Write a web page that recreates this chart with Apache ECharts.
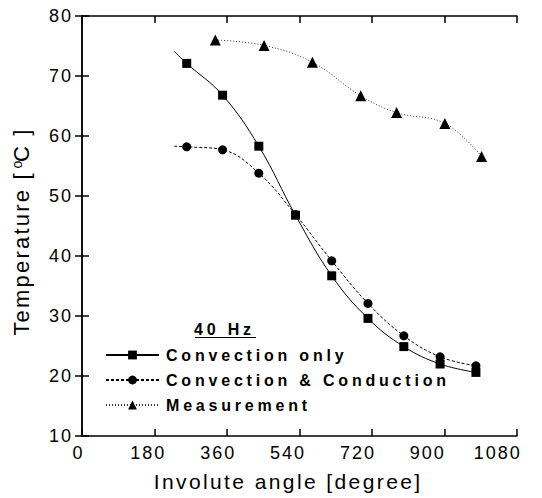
<!DOCTYPE html>
<html>
<head>
<meta charset="utf-8">
<script src="https://cdn.jsdelivr.net/npm/echarts@6/dist/echarts.min.js"></script>
<style>
  html, body { margin: 0; padding: 0; background: #fff; }
  #chart { width: 542px; height: 498px; }
  /* the old plot export spaces its letters out */
  #chart text[style*="18px"] { letter-spacing: 2px; }
  #chart text[style*="21px"] { letter-spacing: 2.4px; }
  #chart text[style*="22px"] { letter-spacing: 2.2px; }
  #chart text[style*="bold"] { letter-spacing: 3.8px; }
</style>
</head>
<body>
<div id="chart"></div>
<script>
  // model curves start at 229 deg without a marker
  var modelAngle = [229, 260, 349, 439, 530, 620, 710, 799, 889, 978];
  var convOnly = [74.1, 72.1, 66.8, 58.3, 46.8, 36.7, 29.6, 24.9, 22.0, 20.6];
  var convCond = [58.3, 58.2, 57.7, 53.8, 46.9, 39.2, 32.1, 26.7, 23.2, 21.7];
  var measAngle = [331, 452, 572, 692, 781, 901, 992];
  var measured = [76.0, 75.1, 72.3, 66.7, 63.9, 62.1, 56.6];
  var seriesNames = ['Convection only', 'Convection & Conduction', 'Measurement'];

  function pairs(xs, ys, hideFirst) {
    var out = [];
    for (var i = 0; i < xs.length; i++) {
      if (hideFirst && i === 0) {
        out.push({ value: [xs[i], ys[i]], symbol: 'none' });
      } else {
        out.push([xs[i], ys[i]]);
      }
    }
    return out;
  }

  var font = '"Liberation Sans", Arial, sans-serif';
  var chart = echarts.init(document.getElementById('chart'), null, { renderer: 'svg' });

  var frameAxis = {
    min: 0,
    max: 1080,
    interval: 180,
    axisLine: { show: true, lineStyle: { color: '#000', width: 1.5 } },
    axisTick: { show: true, inside: true, length: 7, lineStyle: { color: '#000', width: 1.5 } },
    axisLabel: { show: false },
    splitLine: { show: false }
  };
  var frameY = {
    min: 10,
    max: 80,
    interval: 10,
    axisLine: { show: true, lineStyle: { color: '#000', width: 1.5 } },
    axisTick: { show: true, inside: true, length: 7, lineStyle: { color: '#000', width: 1.5 } },
    splitLine: { show: false }
  };

  chart.setOption({
    animation: false,
    textStyle: { fontFamily: font, color: '#000' },
    title: {
      text: '40 Hz',
      left: 194,
      top: 321,
      padding: 0,
      textStyle: { fontFamily: font, fontSize: 16, fontWeight: 'bold', color: '#000' }
    },
    graphic: [{
      type: 'line',
      shape: { x1: 195, y1: 337.5, x2: 256, y2: 337.5 },
      style: { stroke: '#000', lineWidth: 1.2 }
    }],
    legend: {
      data: seriesNames,
      orient: 'vertical',
      left: 105,
      top: 347,
      padding: 0,
      itemWidth: 53,
      itemHeight: 11,
      itemGap: 9,
      textStyle: { fontFamily: font, fontSize: 16, fontWeight: 'bold', color: '#000', padding: [0, 0, 0, 2] }
    },
    grid: [
      { left: 82, top: 16, width: 435, height: 420 },
      // tick labels of the original sit on a slightly narrower scale
      { left: 78.5, top: 16, width: 419.2, height: 420 }
    ],
    xAxis: [
      Object.assign({ gridIndex: 0, type: 'value', position: 'bottom' }, frameAxis),
      Object.assign({ gridIndex: 0, type: 'value', position: 'top' }, frameAxis),
      {
        gridIndex: 1,
        type: 'value',
        min: 0,
        max: 1080,
        interval: 180,
        axisLine: { show: false },
        axisTick: { show: false },
        splitLine: { show: false },
        axisLabel: {
          show: true, margin: 8, fontSize: 18, color: '#000', fontFamily: font,
          formatter: function (v) { return String(v); }
        },
        name: 'Involute angle [degree]',
        nameLocation: 'middle',
        nameGap: 35,
        nameTextStyle: { fontSize: 21, color: '#000', fontFamily: font }
      }
    ],
    yAxis: [
      Object.assign({
        gridIndex: 0,
        type: 'value',
        position: 'left',
        axisLabel: { show: true, margin: 9, fontSize: 18, color: '#000', fontFamily: font },
        name: 'Temperature [{sup|o}C ]',
        nameLocation: 'middle',
        nameGap: 50,
        nameTextStyle: {
          fontSize: 22,
          color: '#000',
          fontFamily: font,
          rich: {
            // left padding makes room for the spaced-out letters before it
            sup: { fontSize: 14, verticalAlign: 'top', padding: [0, 2, 8, 17], fontFamily: font, color: '#000' }
          }
        }
      }, frameY),
      Object.assign({ gridIndex: 0, type: 'value', position: 'right', axisLabel: { show: false } }, frameY),
      { gridIndex: 1, type: 'value', min: 10, max: 80, show: false }
    ],
    series: [
      {
        name: seriesNames[0],
        type: 'line',
        xAxisIndex: 0,
        yAxisIndex: 0,
        data: pairs(modelAngle, convOnly, true),
        smooth: 0.4,
        symbol: 'rect',
        symbolSize: 9,
        itemStyle: { color: '#000' },
        lineStyle: { color: '#000', width: 1, type: 'solid' }
      },
      {
        name: seriesNames[1],
        type: 'line',
        xAxisIndex: 0,
        yAxisIndex: 0,
        data: pairs(modelAngle, convCond, true),
        smooth: 0.4,
        symbol: 'circle',
        symbolSize: 9,
        itemStyle: { color: '#000' },
        lineStyle: { color: '#000', width: 1, type: [3, 2] }
      },
      {
        name: seriesNames[2],
        type: 'line',
        xAxisIndex: 0,
        yAxisIndex: 0,
        data: pairs(measAngle, measured, false),
        smooth: 0.4,
        symbol: 'triangle',
        symbolSize: 11,
        itemStyle: { color: '#000' },
        lineStyle: { color: '#333', width: 1, type: [1, 2] }
      }
    ]
  });
</script>
</body>
</html>
